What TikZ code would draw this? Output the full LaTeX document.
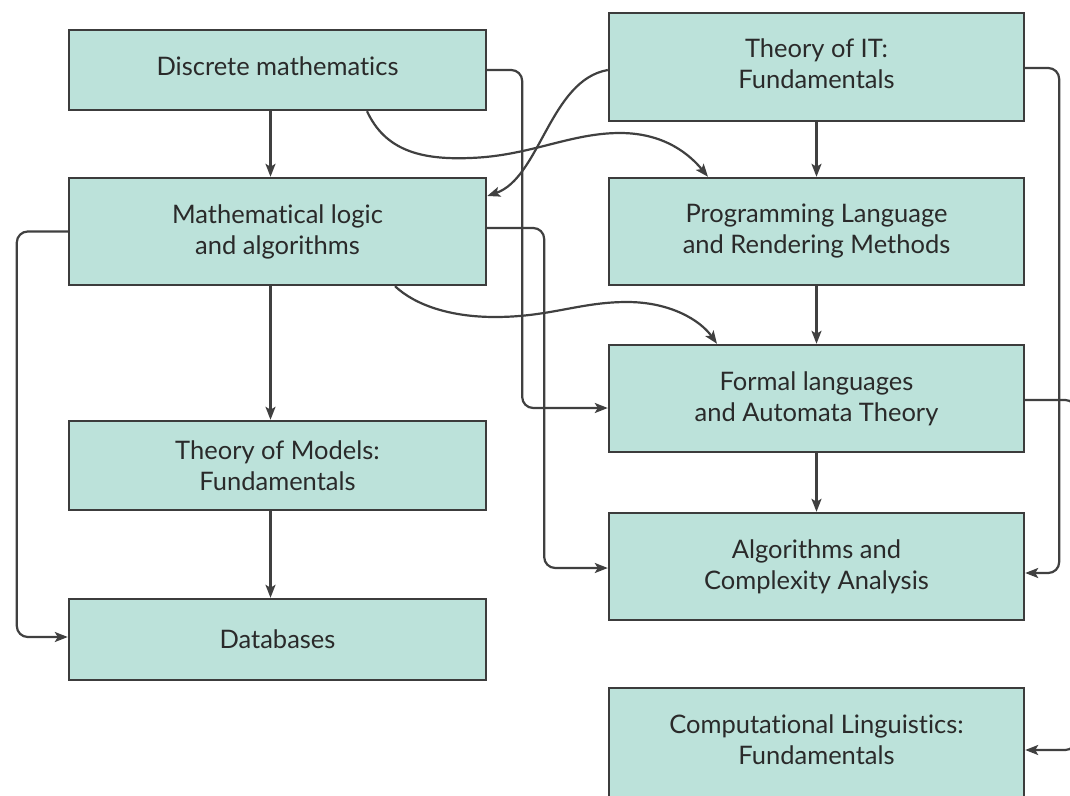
\documentclass[tikz,border=0pt]{standalone}
\usepackage{fontspec}
\setmainfont[Ligatures={NoCommon,NoRare,NoContextual}]{Lato}
\usetikzlibrary{arrows.meta}
\definecolor{boxfill}{HTML}{BCE2DA}
\definecolor{boxline}{HTML}{3C3C3C}
\definecolor{arrline}{HTML}{404040}
\definecolor{txt}{HTML}{2A2A2A}
\tikzset{
  box/.style={draw=boxline, line width=2.4pt, fill=boxfill, align=center, inner sep=0pt,
    font=\fontsize{25.5}{31}\selectfont, text=txt},
  leftbox/.style={box, minimum width=417pt},
  rightbox/.style={box, minimum width=415pt},
  lbl/.style={align=center, inner sep=0pt, font=\fontsize{25.5}{31}\selectfont, text=txt},
  conn/.style={draw=arrline, line width=2.2pt, -{Stealth[length=13pt,width=10pt,inset=3pt]}},
}
\begin{document}
\begin{tikzpicture}[x=1pt,y=-1pt]
\useasboundingbox (0,0) rectangle (1070,795);
\clip (0,0) rectangle (1070,795);
% nodes
\node[leftbox, minimum height=80pt]  (dm) at (277.5,70)  {};
\node[lbl] (dmt) at (277.5,66) {Discrete mathematics};
\node[rightbox, minimum height=108pt] (it) at (816.5,67) {};
\node[lbl] (itt) at (816.5,64) {Theory of IT:\\Fundamentals};
\node[leftbox, minimum height=107pt] (ml) at (277.5,231.5) {Mathematical logic\\and algorithms};
\node[rightbox, minimum height=107pt] (pl) at (816.5,231.5) {Programming Language\\and Rendering Methods};
\node[rightbox, minimum height=107pt] (fl) at (816.5,398.5) {Formal languages\\and Automata Theory};
\node[leftbox, minimum height=89pt]  (tm) at (277.5,465.5) {Theory of Models:\\Fundamentals};
\node[rightbox, minimum height=107pt] (al) at (816.5,566.5) {Algorithms and\\Complexity Analysis};
\node[leftbox, minimum height=81pt]  (db) at (277.5,639.5) {Databases};
\node[rightbox, minimum height=112pt] (cl) at (816.5,744) {};
\node[lbl] (clt) at (816.5,740) {Computational Linguistics:\\Fundamentals};
% straight connectors
\draw[conn] ([xshift=-7pt]dm.south) -- ([xshift=-7pt]ml.north);
\draw[conn] ([xshift=-7pt]ml.south) -- ([xshift=-7pt]tm.north);
\draw[conn] ([xshift=-7pt]tm.south) -- ([xshift=-7pt]db.north);
\draw[conn] (it.south) -- (pl.north);
\draw[conn] (pl.south) -- (fl.north);
\draw[conn] (fl.south) -- (al.north);
% elbow connectors
\draw[conn, rounded corners=11pt] (dm.east) -- ++(35,0) |- ([yshift=-9.5pt]fl.west);
\draw[conn, rounded corners=11pt] ([yshift=3.5pt]ml.east) -- ++(57,0) |- ([yshift=-1.5pt]al.west);
\draw[conn, rounded corners=11pt] (ml.west) -- ++(-51,0) |- ([yshift=2.5pt]db.west);
\draw[conn, rounded corners=11pt] ([yshift=-1pt]it.east) -- ++(34,0) |- ([yshift=-6.5pt]al.east);
\draw[conn, rounded corners=11pt] ([yshift=-1.5pt]fl.east) -- ++(51,0) |- ([yshift=-6pt]cl.east);
% curved connectors
\draw[conn] ([yshift=-3pt]it.west) .. controls (550,80) and (540,178) .. ([yshift=35.5pt]ml.east);
\draw[conn] ([xshift=89.5pt]dm.south) .. controls (385,150) and (420,160) .. (470,158)
  .. controls (530,156) and (570,133) .. (620,133)
  .. controls (665,133) and (690,155) .. ([xshift=-108.5pt]pl.north);
\draw[conn] ([xshift=117.5pt]ml.south) .. controls (415,305) and (450,317) .. (495,317)
  .. controls (550,317) and (580,302) .. (627,302)
  .. controls (670,302) and (700,320) .. ([xshift=-99.5pt]fl.north);
\end{tikzpicture}
\end{document}
